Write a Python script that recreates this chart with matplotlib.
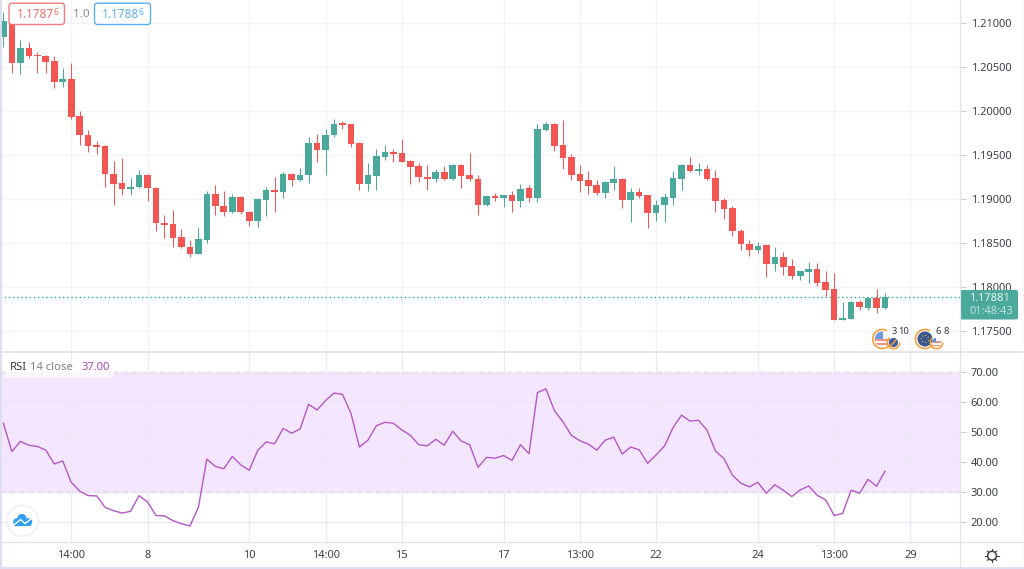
import matplotlib
matplotlib.use("Agg")
import matplotlib.pyplot as plt
from matplotlib.patches import FancyBboxPatch, Circle, Arc, Rectangle

plt.rcParams['font.family'] = ['Noto Sans', 'DejaVu Sans']

opens = [1.20841,1.20985,1.20546,1.20708,1.20629,1.20625,1.20561,1.20322,1.20356,1.19936,1.19724,1.19607,1.19600,1.19282,1.19176,1.19115,1.19130,1.19270,1.19123,1.18722,1.18714,1.18563,1.18457,1.18377,1.18533,1.19059,1.18922,1.18850,1.19017,1.18850,1.18748,1.18990,1.19104,1.19074,1.19282,1.19210,1.19267,1.19637,1.19558,1.19721,1.19857,1.19846,1.19630,1.19168,1.19263,1.19479,1.19528,1.19516,1.19433,1.19369,1.19251,1.19221,1.19304,1.19221,1.19380,1.19270,1.19229,1.18926,1.19032,1.19013,1.19040,1.18979,1.19123,1.19009,1.19781,1.19853,1.19607,1.19471,1.19282,1.19210,1.19153,1.19062,1.19180,1.19229,1.18987,1.19081,1.19040,1.18839,1.18930,1.19013,1.19221,1.19388,1.19320,1.19335,1.19233,1.18987,1.18892,1.18639,1.18491,1.18419,1.18472,1.18260,1.18343,1.18237,1.18124,1.18165,1.18207,1.18060,1.17976,1.17628,1.17640,1.17825,1.17764,1.17874,1.17757]
highs = [1.21125,1.21000,1.20803,1.20780,1.20663,1.20633,1.20621,1.20485,1.20538,1.20001,1.19781,1.19653,1.19611,1.19429,1.19463,1.19233,1.19327,1.19278,1.19138,1.18813,1.18869,1.18654,1.18533,1.18669,1.19093,1.19157,1.19093,1.19051,1.19032,1.18862,1.19013,1.19134,1.19251,1.19304,1.19289,1.19346,1.19698,1.19732,1.19789,1.19906,1.19887,1.19849,1.19645,1.19403,1.19566,1.19611,1.19569,1.19675,1.19441,1.19403,1.19380,1.19335,1.19373,1.19391,1.19391,1.19516,1.19270,1.19043,1.19062,1.19043,1.19085,1.19168,1.19153,1.19849,1.19872,1.19864,1.19895,1.19505,1.19388,1.19316,1.19210,1.19198,1.19369,1.19240,1.19119,1.19119,1.19043,1.18987,1.19062,1.19316,1.19399,1.19471,1.19410,1.19380,1.19327,1.19006,1.18918,1.18657,1.18533,1.18514,1.18476,1.18449,1.18393,1.18313,1.18181,1.18279,1.18268,1.18184,1.18154,1.17825,1.17836,1.17851,1.17889,1.17972,1.17927]
lows = [1.20727,1.20425,1.20417,1.20602,1.20425,1.20425,1.20258,1.20266,1.19902,1.19611,1.19528,1.19505,1.19138,1.18926,1.19043,1.19043,1.19123,1.18979,1.18638,1.18559,1.18449,1.18442,1.18343,1.18374,1.18502,1.18820,1.18809,1.18843,1.18831,1.18691,1.18684,1.18809,1.18850,1.19009,1.19149,1.19206,1.19180,1.19422,1.19270,1.19706,1.19793,1.19592,1.19100,1.19093,1.19100,1.19441,1.19418,1.19418,1.19168,1.19191,1.19100,1.19191,1.19217,1.19210,1.19123,1.19198,1.18816,1.18918,1.18975,1.18911,1.18850,1.18903,1.18968,1.18968,1.19770,1.19547,1.19339,1.19210,1.19074,1.19051,1.19040,1.19009,1.19100,1.18892,1.18737,1.19009,1.18669,1.18752,1.18741,1.18926,1.19100,1.19310,1.19274,1.19215,1.18854,1.18767,1.18578,1.18419,1.18355,1.18389,1.18116,1.18184,1.18135,1.18094,1.18078,1.18041,1.18010,1.17897,1.17620,1.17620,1.17636,1.17738,1.17738,1.17708,1.17753]
closes = [1.21015,1.20546,1.20708,1.20625,1.20618,1.20553,1.20322,1.20356,1.19929,1.19721,1.19603,1.19592,1.19278,1.19172,1.19115,1.19134,1.19270,1.19119,1.18722,1.18703,1.18559,1.18453,1.18377,1.18540,1.19059,1.18915,1.18850,1.19017,1.18847,1.18748,1.18994,1.19100,1.19074,1.19282,1.19210,1.19270,1.19637,1.19558,1.19724,1.19849,1.19834,1.19622,1.19168,1.19270,1.19486,1.19528,1.19509,1.19422,1.19361,1.19244,1.19221,1.19304,1.19221,1.19380,1.19263,1.19221,1.18926,1.19028,1.19013,1.19040,1.18979,1.19111,1.19009,1.19789,1.19853,1.19603,1.19463,1.19274,1.19202,1.19146,1.19066,1.19187,1.19229,1.18987,1.19081,1.19028,1.18839,1.18934,1.19017,1.19233,1.19388,1.19316,1.19335,1.19221,1.18979,1.18884,1.18631,1.18483,1.18419,1.18468,1.18260,1.18343,1.18230,1.18124,1.18177,1.18207,1.18048,1.17965,1.17624,1.17643,1.17829,1.17768,1.17878,1.17757,1.17881]
rsi = [52.9,43.5,46.9,45.6,45.2,44.0,39.4,40.4,33.3,30.4,28.9,28.8,25.0,23.9,23.1,23.7,28.9,26.8,22.3,22.2,20.6,19.6,18.8,25.0,41.0,38.6,37.8,41.9,39.1,37.3,43.9,46.7,46.1,51.2,49.6,51.0,59.2,57.3,60.4,62.9,62.5,56.2,45.0,47.3,52.1,53.2,52.9,50.7,48.9,45.8,45.4,47.6,45.6,50.3,47.0,45.8,38.3,41.6,41.3,42.2,40.6,45.8,42.8,63.1,64.3,57.1,53.4,48.9,47.1,46.0,44.0,47.3,48.3,42.7,45.0,44.1,39.6,42.4,45.4,51.5,55.6,53.6,53.9,50.6,43.7,41.2,35.7,33.0,31.8,33.3,29.7,32.5,30.7,28.6,30.8,32.1,29.0,27.5,22.3,23.0,30.7,29.7,34.3,32.0,37.0]

price_ticks = [1.175,1.18,1.185,1.19,1.195,1.20,1.205,1.21]
rsi_ticks = [20,30,40,50,60,70]
time_pos = [8,17,29,38,47,59,68,77,89,98,107]
time_labels = ['14:00','8','10','14:00','15','17','13:00','22','24','13:00','29']
last_price = 1.17881

GREEN = '#4aa99b'
RED = '#f15653'
GRID = '#f3f4f8'
AXIS = '#e1e3ea'
TXT = '#3c4049'
FS = 8.0

W, H = 1024, 569
fig = plt.figure(figsize=(W/100, H/100), dpi=100, facecolor='white')

def px_axes(x0, y0, x1, y1, **kw):
    return fig.add_axes([x0/W, 1-y1/H, (x1-x0)/W, (y1-y0)/H], **kw)

x_lim = (-3.4/8.477, (960.3-3.4)/8.477)
ax = px_axes(0, 0, 960.3, 352)
ax2 = px_axes(0, 352, 960.3, 542.3)
ov = fig.add_axes([0, 0, 1, 1], facecolor='none')
ov.set_xlim(0, W); ov.set_ylim(H, 0); ov.axis('off')
ov.set_zorder(10)

# price pane
scale = 8809.0
ax.set_xlim(*x_lim)
ax.set_ylim(1.175-(352-331)/scale, 1.175+331/scale)
ax.set_xticks(time_pos); ax.tick_params(axis='x', length=0, labelbottom=False)
ax.set_yticks(price_ticks)
ax.set_yticklabels([f'{p:.5f}' for p in price_ticks])
ax.yaxis.tick_right()
ax.tick_params(axis='y', length=4, width=0.8, color='#c9ccd4', labelsize=FS, labelcolor=TXT, pad=3.4)
ax.grid(True, color=GRID, lw=1.0)
ax.set_axisbelow(True)
for s in ax.spines.values(): s.set_visible(False)
idx = list(range(len(opens)))
cols = [GREEN if c >= o else RED for o, c in zip(opens, closes)]
ax.vlines(idx, lows, highs, colors=cols, lw=0.72, zorder=3)
ax.bar(idx, [abs(c-o) for o, c in zip(opens, closes)], bottom=[min(o, c) for o, c in zip(opens, closes)],
       width=0.78, color=cols, linewidth=0, zorder=4)
ax.axhline(last_price, color='#26a69a', lw=1.0, ls=(0, (1, 2)), zorder=2)

# RSI pane
rs = 3.015
ax2.set_xlim(*x_lim)
ax2.set_ylim(30-(542.3-492.3)/rs, 70+(371.7-352)/rs)
ax2.axhspan(30, 70, color='#f4e6fe', lw=0, zorder=1)
ax2.set_yticks(rsi_ticks)
ax2.set_yticklabels([f'{v:.2f}' for v in rsi_ticks])
ax2.yaxis.tick_right()
ax2.tick_params(axis='y', length=4, width=0.8, color='#c9ccd4', labelsize=FS, labelcolor=TXT, pad=3.4)
ax2.set_xticks(time_pos)
ax2.set_xticklabels(time_labels)
ax2.tick_params(axis='x', length=0, labelsize=FS, labelcolor=TXT, pad=5.5)
for lab in ax2.get_xticklabels():
    if lab.get_text() in ('15', '22', '29'):
        lab.set_fontweight('bold')
ax2.grid(True, color='#ebe8f4', lw=1.0)
ax2.set_axisbelow(False)
for ln in ax2.get_xgridlines() + ax2.get_ygridlines():
    ln.set_zorder(1.5)
for s in ax2.spines.values(): s.set_visible(False)
for lvl in (30, 70):
    ax2.axhline(lvl, color='#8f8199', lw=0.9, ls=(0, (4.5, 3)), zorder=2)
ax2.plot(idx, rsi, color='#b458c8', lw=1.0, zorder=3, solid_joinstyle='round')

# frame lines
ov.plot([960.3, 960.3], [0, 569], color=AXIS, lw=0.9)
ov.plot([0, 1024], [352, 352], color=AXIS, lw=1.2)
ov.plot([0, 1024], [542.3, 542.3], color=AXIS, lw=0.9)
ov.plot([0.5, 0.5], [0, 569], color='#dcdff0', lw=1.4)
ov.plot([0, 1024], [568, 568], color='#dcdff0', lw=1.4)
ov.plot([1023.5, 1023.5], [0, 569], color='#e6e8f4', lw=1.0)

# top quote boxes
def box(x0, y0, x1, y1, ec, fc='white'):
    ov.add_patch(FancyBboxPatch((x0+2, y0+2), x1-x0-4, y1-y0-4, boxstyle='round,pad=2,rounding_size=3',
                                ec=ec, fc=fc, lw=1.0))
box(9, 3.2, 64.5, 24.5, '#f4797a')
ov.text(16.5, 14.5, '1.1787', color='#f26d6c', fontsize=8.5, va='center')
ov.text(53.2, 12.5, '6', color='#f26d6c', fontsize=6.2, va='center')
ov.text(73, 14.5, '1.0', color='#8a8d96', fontsize=8.4, va='center')
box(94.5, 3.2, 150.5, 24.5, '#58aef5')
ov.text(102, 14.5, '1.1788', color='#5aaef0', fontsize=8.5, va='center')
ov.text(138.7, 12.5, '6', color='#5aaef0', fontsize=6.2, va='center')

# last-price tag
ov.add_patch(FancyBboxPatch((961.5, 291.5), 55, 26.5, boxstyle='round,pad=1.5,rounding_size=2', ec='none', fc=GREEN))
ov.text(969.3, 298.2, f'{last_price:.5f}', color='#e6f4f2', fontsize=FS, va='center')
ov.text(969.3, 311.2, '01:48:43', color='#bfe3dd', fontsize=FS, va='center')

# RSI legend
ov.add_patch(Rectangle((5, 361), 109, 17, fc='white', alpha=0.72, ec='none'))
ov.text(9.5, 367.5, 'RSI', color='#3c3f48', fontsize=8.1, va='center')
ov.text(30, 367.5, '14 close', color='#7e828c', fontsize=8.1, va='center')
ov.text(81, 367.5, '37.00', color='#ab47bc', fontsize=8.1, va='center')

# logo
ov.add_patch(Circle((22.7, 520.7), 15.5, fc='white', ec='#eceef2', lw=1.0))
for cx, cy, r in [(17, 522, 3.8), (22, 518.5, 4.6), (28.5, 522, 3.8)]:
    ov.add_patch(Circle((cx, cy), r, fc='#2f9ff0', ec='none'))
ov.add_patch(Rectangle((14, 521), 17, 4.8, fc='#2f9ff0', ec='none'))
ov.plot([14.5, 20.5, 25, 31], [524.5, 519.5, 523.5, 519], color='white', lw=1.0)

# event badges
ORANGE = '#f6a13a'
def ring(cx, cy, r, a=20, b=300):
    ov.add_patch(Arc((cx, cy), 2*r, 2*r, theta1=a, theta2=b, color=ORANGE, lw=1.2))
def clipped(cx, cy, r, x, y, w, h, c):
    clip = Circle((cx, cy), r, transform=ov.transData)
    p = Rectangle((x, y), w, h, fc=c, ec='none')
    ov.add_patch(p)
    p.set_clip_path(clip)

# US badge
ring(882.3, 339, 9.5)
ov.add_patch(Circle((882.3, 339), 7.5, fc='#f6f6f8', ec='none'))
clipped(882.3, 339, 7.5, 874, 331, 9, 8, '#6f9be0')
clipped(882.3, 339, 7.5, 874, 339, 18, 2.2, '#ee8f8a')
clipped(882.3, 339, 7.5, 874, 343, 18, 2.2, '#ee8f8a')
ring(893.5, 342.5, 6.2, 0, 230)
ov.add_patch(Circle((893.5, 342.5), 4.6, fc='#3f5f9f', ec='none'))
ov.plot([890.5, 896], [346, 340], color=ORANGE, lw=1.1)
ov.text(891.5, 331.5, '3', color='#333640', fontsize=6.8, va='center')
ov.text(898, 331.5, '10', color='#333640', fontsize=6.8, va='center')
# EU badge
ring(925, 339, 9.5)
ov.add_patch(Circle((925, 339), 7.5, fc='#38558f', ec='none'))
ov.add_patch(Circle((925, 339), 3.6, fc='none', ec='#d8b94a', lw=0.9, ls=':'))
ring(936.5, 342.5, 6.2, 0, 230)
ov.add_patch(Circle((936.5, 342.5), 4.6, fc='#f6f6f8', ec='none'))
clipped(936.5, 342.5, 4.6, 930, 341, 14, 1.8, '#ee8f8a')
clipped(936.5, 342.5, 4.6, 930, 344.5, 14, 1.8, '#ee8f8a')
clipped(936.5, 342.5, 4.6, 930, 337, 6, 5, '#5b8fd8')
ov.text(935, 331.5, '6', color='#333640', fontsize=6.8, va='center')
ov.text(943, 331.5, '8', color='#333640', fontsize=6.8, va='center')

# settings glyph
ov.add_patch(Circle((992, 555.7), 4.4, fc='white', ec='#3f424c', lw=1.1))
for dx, dy in [(1, 0), (-1, 0), (0, 1), (0, -1), (.7, .7), (-.7, .7), (.7, -.7), (-.7, -.7)]:
    ov.plot([992+dx*4.6, 992+dx*6.6], [555.7+dy*4.6, 555.7+dy*6.6], color='#3f424c', lw=0.8)

fig.savefig('out.png', dpi=100, facecolor='white')
